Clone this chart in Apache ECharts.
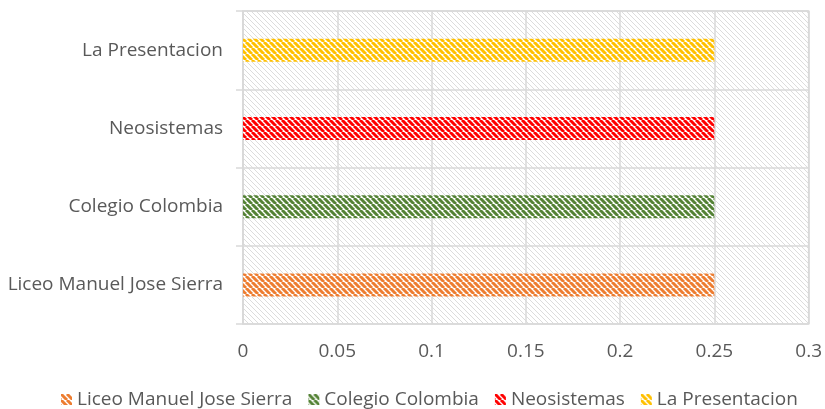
<!DOCTYPE html>
<html>
<head>
<meta charset="utf-8">
<script src="https://cdn.jsdelivr.net/npm/echarts@6/dist/echarts.min.js"></script>
<style>html,body{margin:0;padding:0;background:#fff}#c{width:825px;height:409px}</style>
</head>
<body>
<div id="c"></div>
<script>
const categories = ['Liceo Manuel Jose Sierra', 'Colegio Colombia', 'Neosistemas', 'La Presentacion'];
const seriesNames = ['Liceo Manuel Jose Sierra', 'Colegio Colombia', 'Neosistemas', 'La Presentacion'];
const liceoValues = [0.25, null, null, null];
const colombiaValues = [null, 0.25, null, null];
const neoValues = [null, null, 0.25, null];
const presentacionValues = [null, null, null, 0.25];
const xTicks = [0, 0.05, 0.1, 0.15, 0.2, 0.25, 0.3];

const seriesColors = ['#ED7D31', '#548235', '#FF0000', '#FFC000'];

function makePattern(color, size, lw, bg) {
  const c = document.createElement('canvas');
  c.width = size; c.height = size;
  const ctx = c.getContext('2d');
  ctx.fillStyle = bg; ctx.fillRect(0, 0, size, size);
  ctx.strokeStyle = color; ctx.lineWidth = lw;
  ctx.beginPath();
  for (let k = -1; k <= 1; k++) {
    ctx.moveTo(k * size, 0);
    ctx.lineTo(k * size + size, size);
  }
  ctx.stroke();
  return { image: c, repeat: 'repeat' };
}

const bgPattern = makePattern('#DCDCDC', 5, 1, '#FFFFFF');
const valueSets = [liceoValues, colombiaValues, neoValues, presentacionValues];
const font = '"Open Sans", sans-serif';

const chart = echarts.init(document.getElementById('c'), null, { renderer: 'canvas' });
chart.setOption({
  animation: false,
  grid: { left: 243, right: 15, top: 11, bottom: 85, show: true, backgroundColor: bgPattern, borderColor: '#D9D9D9', borderWidth: 1.5 },
  legend: {
    top: 385, left: 56, itemWidth: 11, itemHeight: 11, itemGap: 16, icon: 'rect',
    textStyle: { color: '#595959', fontSize: 19, fontFamily: font },
    data: seriesNames
  },
  xAxis: {
    type: 'value', min: 0, max: 0.3, interval: 0.05,
    axisLine: { show: false }, axisTick: { show: false },
    splitLine: { lineStyle: { color: '#D9D9D9', width: 1.5 } },
    axisLabel: { color: '#595959', fontSize: 19, fontFamily: font, margin: 18,
      formatter: v => { const t = xTicks.find(x => Math.abs(x - v) < 1e-9); return t === undefined ? '' : String(t); } }
  },
  yAxis: {
    type: 'category', data: categories,
    axisLine: { show: true, lineStyle: { color: '#D9D9D9', width: 1.5 } },
    axisTick: { show: true, length: 7, lineStyle: { color: '#D9D9D9', width: 1.5 } },
    splitLine: { show: true, lineStyle: { color: '#D9D9D9', width: 1.5 } },
    axisLabel: { color: '#595959', fontSize: 19, fontFamily: font, margin: 20 }
  },
  series: seriesNames.map((n, i) => ({
    name: n, type: 'bar', stack: 'all', barWidth: 23,
    data: valueSets[i],
    itemStyle: { color: makePattern(seriesColors[i], 6, 3, '#FFFFFF') }
  }))
});
</script>
</body>
</html>
